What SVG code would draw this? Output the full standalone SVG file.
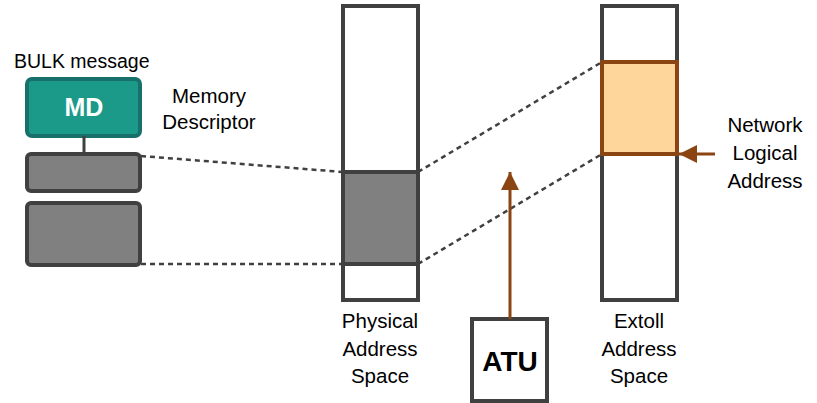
<svg xmlns="http://www.w3.org/2000/svg" width="817" height="403" viewBox="0 0 817 403">
  <style>
    .t { font-family: "Liberation Sans", Arial, sans-serif; font-size: 20.5px; fill: #000; }
    .c { text-anchor: middle; }
    .dash { stroke: #404040; stroke-width: 2.5; stroke-dasharray: 5 4; fill: none; }
    .box { stroke: #404040; stroke-width: 4; }
    .brown { stroke: #8b4513; stroke-width: 3; fill: none; }
  </style>
  <defs>
    <marker id="ah" viewBox="0 0 10 10" refX="10" refY="5" markerWidth="6" markerHeight="6" orient="auto" markerUnits="strokeWidth">
      <path d="M0,0 L10,5 L0,10 Z" fill="#8b4513"/>
    </marker>
  </defs>
  <rect width="817" height="403" fill="#fff"/>

  <text class="t" x="14" y="68" style="font-size:19.5px">BULK message</text>

  <g id="md">
    <rect x="27" y="79" width="113" height="57" rx="5" fill="#1b9a8a" stroke="#17706a" stroke-width="4"/>
    <text x="84" y="116" class="c" style="font-family:'Liberation Sans',Arial,sans-serif;font-size:25px;font-weight:bold;fill:#fff">MD</text>
  </g>
  <g id="md-label">
    <text class="t c" x="209" y="103">Memory</text>
    <text class="t c" x="209" y="129">Descriptor</text>
  </g>

  <g id="seg1">
    <rect class="box" x="27" y="154" width="113" height="37" rx="4" fill="#808080"/>
  </g>
  <g id="seg2">
    <rect class="box" x="27" y="203" width="113" height="62" rx="4" fill="#808080"/>
  </g>

  <g id="physical">
    <rect class="box" x="343" y="6" width="75" height="294" fill="#fff"/>
    <rect class="box" x="343" y="172" width="75" height="92" fill="#808080"/>
    <text class="t c" x="380" y="328">Physical</text>
    <text class="t c" x="380" y="356">Address</text>
    <text class="t c" x="380" y="383">Space</text>
  </g>

  <g id="extoll">
    <rect class="box" x="602" y="6" width="75" height="294" fill="#fff"/>
    <rect x="602" y="62" width="75" height="92" fill="#fed59a" stroke="#8b4513" stroke-width="4"/>
    <text class="t c" x="639" y="328">Extoll</text>
    <text class="t c" x="639" y="356">Address</text>
    <text class="t c" x="639" y="383">Space</text>
  </g>

  <g id="atu">
    <rect class="box" x="472" y="319" width="75" height="82" fill="#fff"/>
    <text x="510" y="371" class="c" style="font-family:'Liberation Sans',Arial,sans-serif;font-size:28px;font-weight:bold;fill:#000">ATU</text>
  </g>

  <g id="nla">
    <text class="t c" x="765" y="132">Network</text>
    <text class="t c" x="765" y="160">Logical</text>
    <text class="t c" x="765" y="188">Address</text>
  </g>

  <g id="connectors">
    <line x1="84" y1="136" x2="84" y2="154" stroke="#404040" stroke-width="3"/>
    <line class="dash" x1="141" y1="156" x2="343" y2="172"/>
    <line class="dash" x1="141" y1="264" x2="343" y2="264"/>
    <line class="dash" x1="418" y1="172" x2="602" y2="62"/>
    <line class="dash" x1="418" y1="264" x2="602" y2="154"/>
    <line class="brown" x1="510" y1="319" x2="510" y2="172" marker-end="url(#ah)"/>
    <line class="brown" x1="715" y1="154" x2="679" y2="154" marker-end="url(#ah)"/>
  </g>
</svg>
